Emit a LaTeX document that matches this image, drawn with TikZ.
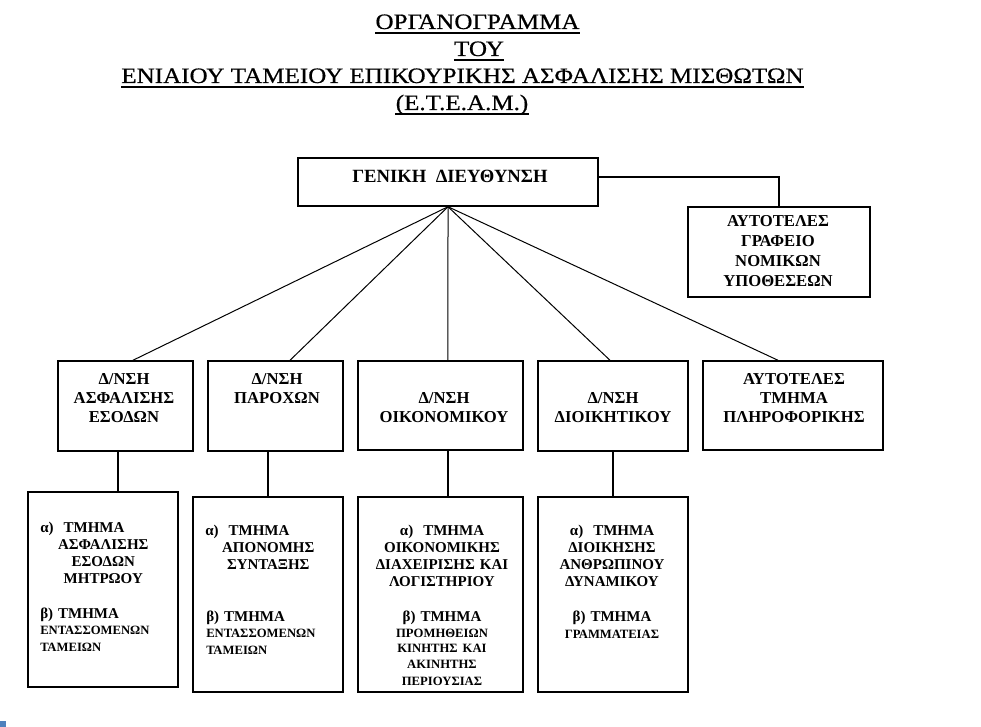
\documentclass[tikz,border=0pt]{standalone}
\usepackage{fontspec}
\setmainfont{Liberation Serif}
\newfontfamily\titlefont[FakeStretch=1.14, FakeBold=0.6]{Liberation Serif}
\usetikzlibrary{fit}
\definecolor{marker}{RGB}{79,129,189}
\tikzset{
	box/.style={draw, line width=1.1pt, inner sep=0pt},
	conn/.style={line width=0.9pt},
	fan/.style={line width=0.75pt},
	uline/.style={line width=1.1pt},
	ttl/.style={anchor=base, inner sep=0pt, font=\titlefont\fontsize{16.5}{20}\selectfont},
	hd/.style={anchor=north, inner sep=0pt, align=center, text width=170pt, font=\bfseries\fontsize{12.5}{14.25}\selectfont},
	sub/.style={inner sep=0pt, text width=125pt, font=\bfseries\fontsize{11.25}{12.75}\selectfont},
}
\newcommand{\sm}{\fontsize{9.5}{11.6}\selectfont}
\newcommand{\ctr}[1]{\makebox[94.5pt][c]{#1}}
\newcommand{\ulnode}[1]{
	\draw[uline] ([yshift=-3pt]#1.base west) -- ([yshift=-3pt]#1.base east);
}

\begin{document}
\begin{tikzpicture}[x=0.75pt,y=-0.75pt]
	\useasboundingbox (0,0) rectangle (981,727);
	
	% title
	\node[ttl] (t1) at (477.5,29) {ΟΡΓΑΝΟΓΡΑΜΜΑ};
	\node[ttl] (t2) at (479,56) {ΤΟΥ};
	\node[ttl] (t3) at (462.5,83) {ΕΝΙΑΙΟΥ ΤΑΜΕΙΟΥ ΕΠΙΚΟΥΡΙΚΗΣ ΑΣΦΑΛΙΣΗΣ ΜΙΣΘΩΤΩΝ};
	\node[ttl] (t4) at (462,110) {(Ε.Τ.Ε.Α.Μ.)};
	\foreach \t in {t1,t2,t3,t4} {\ulnode{\t}}
	
	% boxes
	\node[box, fit={(298,158) (598,206)}] (gd) {};
	\node[box, fit={(688,207) (870,297)}] (ng) {};
	\node[box, fit={(58,361) (193,451)}] (d1) {};
	\node[box, fit={(208,361) (343,451)}] (d2) {};
	\node[box, fit={(358,361) (523,450)}] (d3) {};
	\node[box, fit={(538,361) (688,451)}] (d4) {};
	\node[box, fit={(703,361) (883,450)}] (d5) {};
	\node[box, fit={(28,492) (178,687)}] (b1) {};
	\node[box, fit={(193,497) (343,692)}] (b2) {};
	\node[box, fit={(358,497) (523,692)}] (b3) {};
	\node[box, fit={(538,497) (688,692)}] (b4) {};
	
	% texts
	\node[anchor=base, inner sep=0pt, font=\bfseries\fontsize{14}{16}\selectfont] (gdt) at (450,183) {ΓΕΝΙΚΗ\ \ ΔΙΕΥΘΥΝΣΗ};
	\node[hd, font=\bfseries\fontsize{12.5}{15}\selectfont] (ngt) at (778,215) {ΑΥΤΟΤΕΛΕΣ\\ΓΡΑΦΕΙΟ\\ΝΟΜΙΚΩΝ\\ΥΠΟΘΕΣΕΩΝ};
	\node[hd] (d1t) at (124,373) {Δ/ΝΣΗ\\ΑΣΦΑΛΙΣΗΣ\\ΕΣΟΔΩΝ};
	\node[hd] (d2t) at (277,373) {Δ/ΝΣΗ\\ΠΑΡΟΧΩΝ};
	\node[hd] (d3t) at (444,392) {Δ/ΝΣΗ\\ΟΙΚΟΝΟΜΙΚΟΥ};
	\node[hd] (d4t) at (613,392) {Δ/ΝΣΗ\\ΔΙΟΙΚΗΤΙΚΟΥ};
	\node[hd] (d5t) at (794,373) {ΑΥΤΟΤΕΛΕΣ\\ΤΜΗΜΑ\\ΠΛΗΡΟΦΟΡΙΚΗΣ};
	
	\node[sub, anchor=north west, align=left] (b1a) at (40,522) {α)\ \ ΤΜΗΜΑ\\\ctr{ΑΣΦΑΛΙΣΗΣ}\\\ctr{ΕΣΟΔΩΝ}\\\ctr{ΜΗΤΡΩΟΥ}};
	\node[sub, anchor=north west, align=left] (b1b) at (40,608) {β) ΤΜΗΜΑ\\\sm ΕΝΤΑΣΣΟΜΕΝΩΝ\\ΤΑΜΕΙΩΝ};
	\node[sub, anchor=north west, align=left] (b2a) at (205,525) {α)\ \ ΤΜΗΜΑ\\\ctr{ΑΠΟΝΟΜΗΣ}\\\ctr{ΣΥΝΤΑΞΗΣ}};
	\node[sub, anchor=north west, align=left] (b2b) at (206,611) {β) ΤΜΗΜΑ\\\sm ΕΝΤΑΣΣΟΜΕΝΩΝ\\ΤΑΜΕΙΩΝ};
	\node[sub, anchor=north, align=center] (b3a) at (442,525) {α)\ \ ΤΜΗΜΑ\\ΟΙΚΟΝΟΜΙΚΗΣ\\ΔΙΑΧΕΙΡΙΣΗΣ ΚΑΙ\\ΛΟΓΙΣΤΗΡΙΟΥ};
	\node[sub, anchor=north, align=center] (b3b) at (442,611) {β) ΤΜΗΜΑ\\\sm ΠΡΟΜΗΘΕΙΩΝ\\ΚΙΝΗΤΗΣ ΚΑΙ\\ΑΚΙΝΗΤΗΣ\\ΠΕΡΙΟΥΣΙΑΣ};
	\node[sub, anchor=north, align=center] (b4a) at (612,525) {α)\ \ ΤΜΗΜΑ\\ΔΙΟΙΚΗΣΗΣ\\ΑΝΘΡΩΠΙΝΟΥ\\ΔΥΝΑΜΙΚΟΥ};
	\node[sub, anchor=north, align=center] (b4b) at (612,611) {β) ΤΜΗΜΑ\\\sm ΓΡΑΜΜΑΤΕΙΑΣ};
	
	% connectors
	\draw[conn] ([yshift=3.75pt]gd.east) -| (ng.north);
	\foreach \b/\dx in {d1/5.6pt, d2/10.9pt, d3/5.6pt, d4/-2.25pt, d5/-11.25pt}
		\draw[fan] (gd.south) -- ([xshift=\dx]\b.north);
	\draw[conn] ([xshift=-5.6pt]d1.south) -- ([xshift=-5.6pt]d1.south |- b1.north);
	\draw[conn] (d2.south -| b2.north) -- (b2.north);
	\draw[conn] ([xshift=5.6pt]d3.south) -- ([xshift=5.6pt]d3.south |- b3.north);
	\draw[conn] (d4.south) -- (b4.north);
	
	\fill[marker] (0,721) rectangle (6,727);
\end{tikzpicture}
\end{document}
